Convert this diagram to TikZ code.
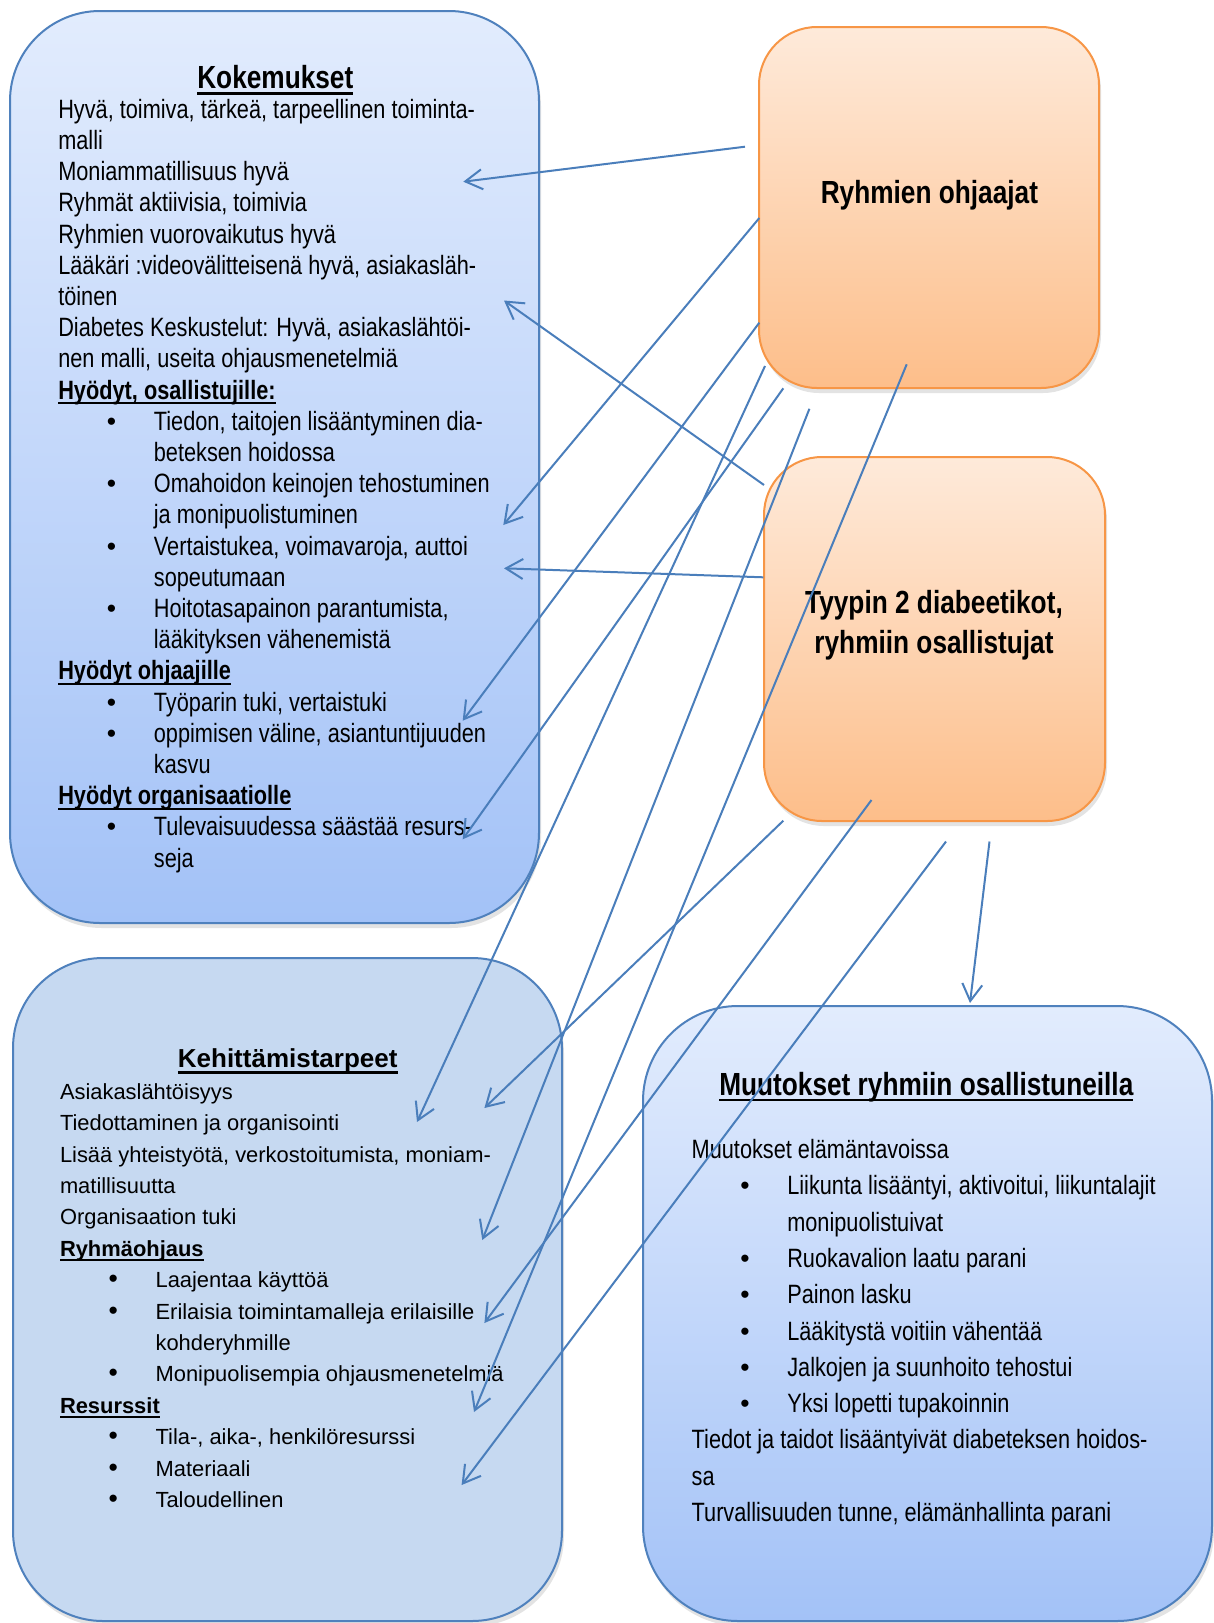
\documentclass[tikz,border=0pt]{standalone}
\usepackage{fontspec}
\setmainfont{Liberation Sans}
\newfontfamily\regfont{Liberation Sans}
\newfontfamily\narrowfont{Liberation Sans}[FakeStretch=0.82]
\usetikzlibrary{arrows.meta,shadows}

\definecolor{lineblue}{HTML}{4A7EBB}
\definecolor{bordblue}{HTML}{4F81BD}
\definecolor{btop}{HTML}{E2ECFD}
\definecolor{bbot}{HTML}{A3C2F7}
\definecolor{bflat}{HTML}{C6D9F1}
\definecolor{otop}{HTML}{FEEADA}
\definecolor{obot}{HTML}{FDBE8A}
\definecolor{obord}{HTML}{F79646}

% bullet item: bullet centred at 53.3pt, text from 95.6pt
\newcommand\bulletmark{{\regfont\fontsize{26.5pt}{26.5pt}\selectfont\textbullet}}
\newcommand\bitem[1]{\hspace*{53.3pt}\makebox[0pt]{\bulletmark}\hspace*{42.3pt}#1}
\newcommand\bcont[1]{\hspace*{95.6pt}#1}
% thick underline: #1 = depth of rule bottom, #2 = thickness
\newcommand\ulbox[3]{\setbox0=\hbox{#3}\rlap{\rule[-#1]{\wd0}{#2}}\box0}

\tikzset{
  txt/.style={inner sep=0pt, outer sep=0pt},
  boxshadow/.style={drop shadow={opacity=0.22, shadow xshift=2pt, shadow yshift=-5pt}},
  bluebox/.style={draw=bordblue, line width=2pt, rounded corners=#1,
    top color=btop, bottom color=bbot, inner sep=0pt, boxshadow},
  flatbox/.style={draw=bordblue, line width=2pt, rounded corners=#1,
    fill=bflat, inner sep=0pt, boxshadow},
  orangebox/.style={draw=obord, line width=2pt, rounded corners=#1,
    top color=otop, bottom color=obot, inner sep=0pt, boxshadow},
  conn/.style={draw=lineblue, line width=2pt,
    -{Straight Barb[length=17pt,width=20pt]}},
}

\begin{document}
\begin{tikzpicture}[x=1pt,y=-1pt]
\useasboundingbox (0,0) rectangle (1214,1623);
\fill[white] (0,0) rectangle (1214,1623);

% ---------- boxes ----------
\node[bluebox=90pt, minimum width=529pt, minimum height=912pt] (kok) at (274.5,467) {};
\node[orangebox=58pt, minimum width=340pt, minimum height=361pt] (ohj) at (929,207.5) {};
\node[orangebox=58pt, minimum width=341pt, minimum height=364pt] (dia) at (934.5,639) {};
\node[flatbox=90pt, minimum width=549pt, minimum height=663pt] (keh) at (287.5,1289.5) {};
\node[bluebox=95pt, minimum width=569pt, minimum height=615pt] (muu) at (927.5,1313.5) {};

% ---------- Kokemukset ----------
\node[txt, anchor=base] (koktitle) at (275.3,88.5)
  {\narrowfont\fontsize{32pt}{36pt}\selectfont\bfseries\ulbox{6.3pt}{2.5pt}{Kokemukset}};
\node[txt, anchor=base west] (kokbody) at (58.3,118.3) {\parbox[t]{480pt}{%
\narrowfont\fontsize{26.5pt}{31.2pt}\selectfont
Hyvä, toimiva, tärkeä, tarpeellinen toiminta-\\
malli\\
Moniammatillisuus hyvä\\
Ryhmät aktiivisia, toimivia\\
Ryhmien vuorovaikutus hyvä\\
Lääkäri :videovälitteisenä hyvä, asiakasläh-\\
töinen\\
Diabetes Keskustelut: Hyvä, asiakaslähtöi-\\
nen malli, useita ohjausmenetelmiä\\
\ulbox{5pt}{2pt}{\bfseries Hyödyt, osallistujille:}\\
\bitem{Tiedon, taitojen lisääntyminen dia-}\\
\bcont{beteksen hoidossa}\\
\bitem{Omahoidon keinojen tehostuminen}\\
\bcont{ja monipuolistuminen}\\
\bitem{Vertaistukea, voimavaroja, auttoi}\\
\bcont{sopeutumaan}\\
\bitem{Hoitotasapainon parantumista,}\\
\bcont{lääkityksen vähenemistä}\\
\ulbox{5pt}{2pt}{\bfseries Hyödyt ohjaajille}\\
\bitem{Työparin tuki, vertaistuki}\\
\bitem{oppimisen väline, asiantuntijuuden}\\
\bcont{kasvu}\\
\ulbox{5pt}{2pt}{\bfseries Hyödyt organisaatiolle}\\
\bitem{Tulevaisuudessa säästää resurs-}\\
\bcont{seja}}};

% ---------- group leaders / participants ----------
\node[txt, anchor=base] (ohjtext) at (929.4,203)
  {\narrowfont\fontsize{32pt}{36pt}\selectfont\bfseries Ryhmien ohjaajat};
\node[txt, anchor=base] (diatext) at (934,613) {\parbox[t]{320pt}{\centering
\narrowfont\fontsize{32pt}{40.5pt}\selectfont\bfseries
Tyypin 2 diabeetikot,\\ ryhmiin osallistujat}};

% ---------- Kehittämistarpeet ----------
\node[txt, anchor=base] (kehtitle) at (287.7,1067)
  {\regfont\fontsize{26pt}{30pt}\selectfont\bfseries\ulbox{6.5pt}{2.5pt}{Kehittämistarpeet}};
\node[txt, anchor=base west] (kehbody) at (60,1099.3) {\parbox[t]{490pt}{%
\regfont\fontsize{21.9pt}{31.4pt}\selectfont
Asiakaslähtöisyys\\
Tiedottaminen ja organisointi\\
Lisää yhteistyötä, verkostoitumista, moniam-\\
matillisuutta\\
Organisaation tuki\\
\ulbox{4.5pt}{2pt}{\bfseries Ryhmäohjaus}\\
\bitem{Laajentaa käyttöä}\\
\bitem{Erilaisia toimintamalleja erilaisille}\\
\bcont{kohderyhmille}\\
\bitem{Monipuolisempia ohjausmenetelmiä}\\
\ulbox{4.5pt}{2pt}{\bfseries Resurssit}\\
\bitem{Tila-, aika-, henkilöresurssi}\\
\bitem{Materiaali}\\
\bitem{Taloudellinen}}};

% ---------- Muutokset ----------
\node[txt, anchor=base] (muutitle) at (926.3,1095)
  {\narrowfont\fontsize{32pt}{36pt}\selectfont\bfseries\ulbox{6.3pt}{2.5pt}{Muutokset ryhmiin osallistuneilla}};
\node[txt, anchor=base west] (muubody) at (691.7,1158.5) {\parbox[t]{510pt}{%
\narrowfont\fontsize{26.5pt}{36.3pt}\selectfont
Muutokset elämäntavoissa\\
\bitem{Liikunta lisääntyi, aktivoitui, liikuntalajit}\\
\bcont{monipuolistuivat}\\
\bitem{Ruokavalion laatu parani}\\
\bitem{Painon lasku}\\
\bitem{Lääkitystä voitiin vähentää}\\
\bitem{Jalkojen ja suunhoito tehostui}\\
\bitem{Yksi lopetti tupakoinnin}\\
Tiedot ja taidot lisääntyivät diabeteksen hoidos-\\
sa\\
Turvallisuuden tunne, elämänhallinta parani}};

% ---------- connector end points ----------
\coordinate (s1) at (745,146.7);   \coordinate (t1) at (463.3,181.7);
\coordinate (s2) at (764,485);     \coordinate (t2) at (504,300.5);
\coordinate (s3) at (759.3,218);   \coordinate (t3) at (503.3,525);
\coordinate (s4) at (763.3,577.3); \coordinate (t4) at (504,568.3);
\coordinate (s5) at (759.3,322.7); \coordinate (t5) at (462.7,720.7);
\coordinate (s6) at (783.3,388.3); \coordinate (t6) at (462.7,839.3);
\coordinate (s7) at (765,366);     \coordinate (t7) at (417,1122);
\coordinate (s8) at (783.3,820.7); \coordinate (t8) at (484.4,1108);
\coordinate (s9) at (809.4,408.8); \coordinate (t9) at (482.3,1240);
\coordinate (s10) at (906.7,364.3); \coordinate (t10) at (474,1412);
\coordinate (s11) at (871.5,800);  \coordinate (t11) at (484.4,1323);
\coordinate (s12) at (946,841.5);  \coordinate (t12) at (461.6,1485);
\coordinate (s13) at (989.5,841.5); \coordinate (t13) at (970,1003);

% ---------- connectors ----------
\foreach \i in {1,...,13} { \draw[conn] (s\i) -- (t\i); }
\end{tikzpicture}
\end{document}
